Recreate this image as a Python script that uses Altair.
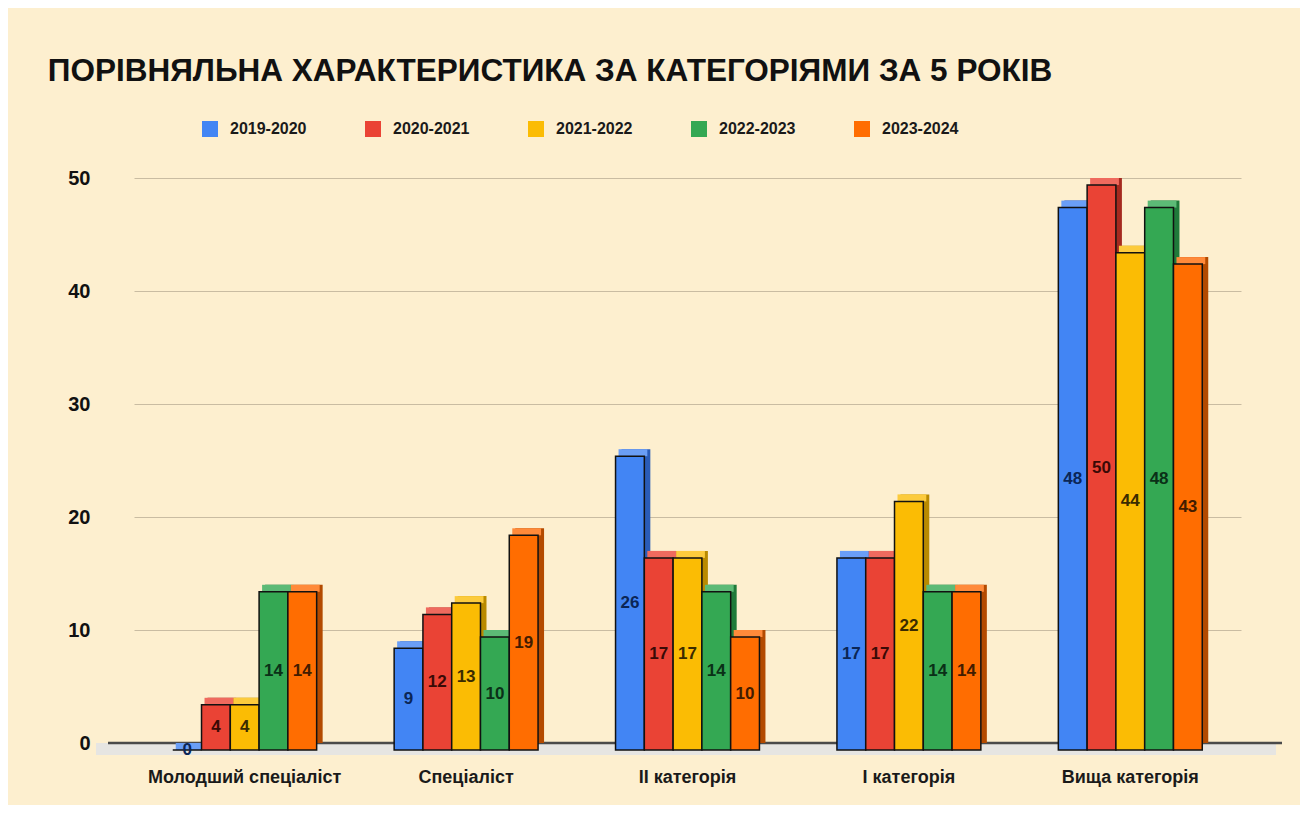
import altair as alt
import pandas as pd

categories = ["Молодший спеціаліст", "Спеціаліст", "II категорія", "I категорія", "Вища категорія"]
years = ["2019-2020", "2020-2021", "2021-2022", "2022-2023", "2023-2024"]
v_2019_2020 = [0, 9, 26, 17, 48]
v_2020_2021 = [4, 12, 17, 17, 50]
v_2021_2022 = [4, 13, 17, 22, 44]
v_2022_2023 = [14, 10, 14, 14, 48]
v_2023_2024 = [14, 19, 10, 14, 43]
y_ticks = [0, 10, 20, 30, 40, 50]

front_colors = ["#4285f4", "#ea4335", "#fbbc04", "#34a853", "#ff6d01"]
side_colors = ["#2a5cb8", "#a52a1f", "#b98a00", "#1f7a3a", "#b34a00"]
top_colors = ["#6a9ef6", "#ef6a5e", "#fccb3d", "#5cba76", "#ff8a3a"]
text_colors = ["#0b2656", "#3a0a06", "#3a2b00", "#0a3017", "#431c00"]

series = [v_2019_2020, v_2020_2021, v_2021_2022, v_2022_2023, v_2023_2024]
rows = []
for yr, vals in zip(years, series):
    for c, v in zip(categories, vals):
        rows.append({"cat": c, "year": yr, "v": v})
df = pd.DataFrame(rows)

FONT = "Liberation Sans"
W, H = 1172, 565
STEP = 221.4
BAND = STEP * 0.65
BAR_W = BAND / 5

x_enc = alt.X("cat:N", sort=categories,
              scale=alt.Scale(range=[24, 1131], paddingInner=0.35, paddingOuter=0.175),
              axis=alt.Axis(title=None, labelFont=FONT, labelFontSize=18, labelFontWeight="bold",
                            labelColor="#1a1a1a", labelPadding=25, domain=False, ticks=False,
                            labelAngle=0, grid=False, labelLimit=400))


def xo(shift):
    return alt.XOffset("year:N", sort=years,
                       scale=alt.Scale(type="band", range=[shift, BAND + shift],
                                       paddingInner=0, paddingOuter=0))


xo_text = alt.XOffset("year:N", sort=years,
                      scale=alt.Scale(type="point", range=[BAR_W / 2, BAND - BAR_W / 2],
                                      padding=0))

y_scale = alt.Scale(domain=[0, 50], nice=False)
y_enc = alt.Y("v:Q", scale=y_scale,
              axis=alt.Axis(title=None, values=y_ticks, labelFont=FONT, labelFontSize=20,
                            labelFontWeight="bold", labelColor="#111111", labelPadding=20,
                            domain=False, ticks=False, grid=True, gridColor="#c9bca2",
                            gridWidth=1))

base = alt.Chart(df)

one = pd.DataFrame({"a": [0]})
floor = alt.Chart(one).mark_rect(color="#e6e5e2").encode(
    x=alt.value(-14), x2=alt.value(1166), y=alt.value(H), y2=alt.value(H + 12))
baseline = alt.Chart(one).mark_rule(color="#4a4a4a", strokeWidth=2.5).encode(
    x=alt.value(-2), x2=alt.value(W), y=alt.value(H))

side = base.mark_bar(clip=False).encode(
    x=x_enc, xOffset=xo(6), y=y_enc,
    color=alt.Color("year:N", sort=years, scale=alt.Scale(domain=years, range=side_colors), legend=None))

top = base.mark_tick(yOffset=3.5, thickness=7, size=BAR_W, opacity=1).encode(
    x=x_enc, xOffset=xo(3), y=y_enc,
    color=alt.Color("year:N", sort=years, scale=alt.Scale(domain=years, range=top_colors), legend=None))

front = base.mark_bar(yOffset=7, stroke="#111111", strokeWidth=1.5).encode(
    x=x_enc, xOffset=xo(0), y=y_enc,
    color=alt.Color("year:N", sort=years, scale=alt.Scale(domain=years, range=front_colors),
                    legend=alt.Legend(title=None, orient="none", legendX=92, legendY=-57,
                                      direction="horizontal", columns=5, columnPadding=58,
                                      symbolType="square", symbolSize=256, symbolStrokeWidth=0,
                                      labelFont=FONT, labelFontSize=16, labelFontWeight="bold",
                                      labelColor="#1a1a1a", labelOffset=12)))

labels = base.transform_calculate(mid="datum.v / 2").mark_text(
    dy=7, font=FONT, fontSize=17, fontWeight="bold").encode(
    x=x_enc, xOffset=xo_text, y=alt.Y("mid:Q", scale=y_scale),
    text=alt.Text("v:Q"),
    color=alt.Color("year:N", sort=years, scale=alt.Scale(domain=years, range=text_colors), legend=None))

chart = alt.layer(floor, baseline, side, top, front, labels).resolve_scale(
    color="independent", xOffset="independent").properties(
    width=W, height=H,
    padding={"left": 102, "top": 170, "right": 18, "bottom": 62},
    autosize=alt.AutoSizeParams(type="none"),
    background="#fdefcf",
    title=alt.Title("ПОРІВНЯЛЬНА ХАРАКТЕРИСТИКА ЗА КАТЕГОРІЯМИ ЗА 5 РОКІВ",
                    anchor="start", dx=-20, offset=34, font=FONT, fontSize=31.5,
                    fontWeight="bold", color="#111111"),
).configure_view(stroke=None)

chart.save("out.html", embed_options={"renderer": "svg", "actions": False})
